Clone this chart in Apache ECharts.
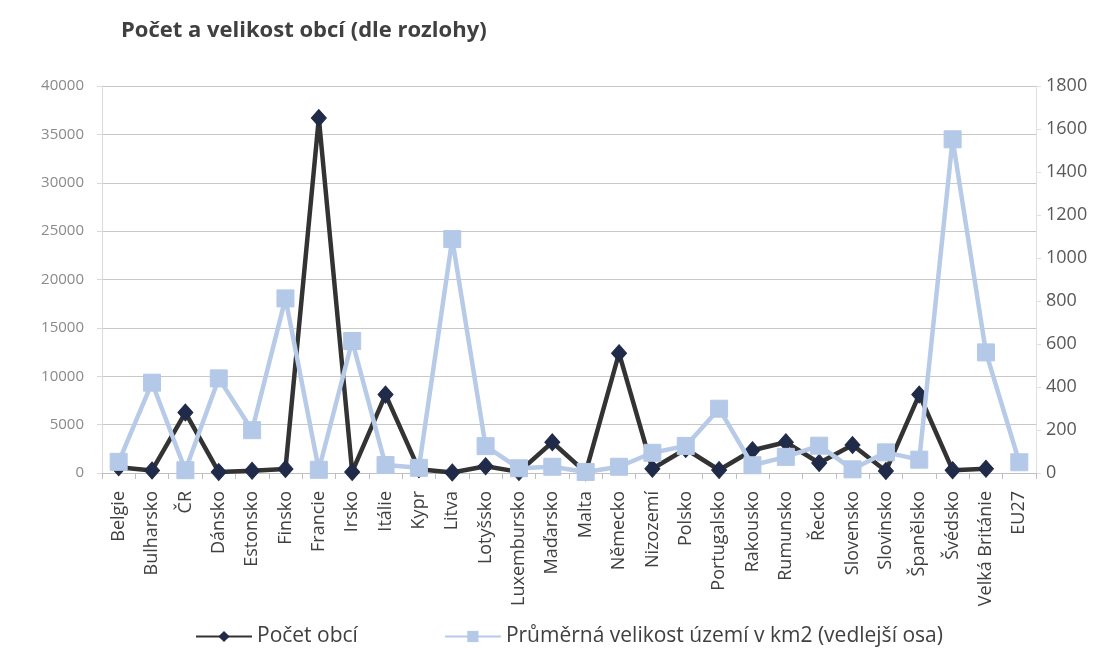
<!DOCTYPE html>
<html>
<head>
<meta charset="utf-8">
<script src="https://cdn.jsdelivr.net/npm/echarts@6/dist/echarts.min.js"></script>
<style>
html,body{margin:0;padding:0;background:#fff;}
#c{width:1119px;height:648px;}
</style>
</head>
<body>
<div id="c"></div>
<script>
const categories = ["Belgie","Bulharsko","ČR","Dánsko","Estonsko","Finsko","Francie","Irsko","Itálie","Kypr","Litva","Lotyšsko","Luxembursko","Maďarsko","Malta","Německo","Nizozemí","Polsko","Portugalsko","Rakousko","Rumunsko","Řecko","Slovensko","Slovinsko","Španělsko","Švédsko","Velká Británie","EU27"];
const pocetObci = [589,264,6249,98,227,416,36683,114,8101,378,60,700,116,3175,68,12379,443,2478,308,2357,3180,1034,2891,210,8111,290,433,null];
const velikost = [52,420,13,440,199,812,15,614,37,24,1088,125,22,29,5,29,94,126,299,36,75,127,17,96,62,1552,561,50];
const leftTicks = {min:0,max:40000,interval:5000};
const rightTicks = {min:0,max:1800,interval:200};

const chart = echarts.init(document.getElementById('c'));
const FONT = '"Open Sans", "Noto Sans", sans-serif';
const plain = v => String(v);
chart.setOption({
  backgroundColor:'#ffffff',
  animation:false,
  title:{
    text:'Počet a velikost obcí (dle rozlohy)',
    left:116, top:15,
    textStyle:{fontFamily:FONT,fontSize:22,fontWeight:'bold',color:'#404040'}
  },
  legend:{
    left:190, top:621,
    itemWidth:56, itemHeight:14, itemGap:86,
    textStyle:{fontFamily:FONT,fontSize:21,color:'#404040'},
    data:['Počet obcí','Průměrná velikost území v km2 (vedlejší osa)']
  },
  grid:{left:102,right:83,top:86,bottom:175},
  xAxis:{
    type:'category',
    data:categories,
    boundaryGap:true,
    axisLine:{lineStyle:{color:'#bfbfbf',width:1}},
    axisTick:{show:true,alignWithLabel:false,length:6,lineStyle:{color:'#bfbfbf'}},
    axisLabel:{rotate:90,interval:0,margin:18,fontFamily:FONT,fontSize:18,color:'#404040'}
  },
  yAxis:[{
    type:'value',
    min:leftTicks.min,max:leftTicks.max,interval:leftTicks.interval,
    axisLine:{show:true,lineStyle:{color:'#d9d9d9'}},
    axisTick:{show:true,length:5,lineStyle:{color:'#d9d9d9'}},
    splitLine:{lineStyle:{color:'#c8c8c8',width:1}},
    axisLabel:{margin:18,fontFamily:FONT,fontSize:15,color:'#8a8a8a',formatter:plain}
  },{
    type:'value',
    min:rightTicks.min,max:rightTicks.max,interval:rightTicks.interval,
    axisLine:{show:true,lineStyle:{color:'#e0e0e0'}},
    axisTick:{show:true,length:5,lineStyle:{color:'#e0e0e0'}},
    splitLine:{show:false},
    axisLabel:{margin:10,fontFamily:FONT,fontSize:18,color:'#595959',formatter:plain}
  }],
  series:[{
    name:'Počet obcí',
    type:'line',
    yAxisIndex:0,
    data:pocetObci,
    symbol:'diamond',
    symbolSize:[15,17],
    showAllSymbol:true,
    z:2,
    lineStyle:{color:'#333333',width:4.5},
    itemStyle:{color:'#1f2b48',borderColor:'#1f2b48'}
  },{
    name:'Průměrná velikost území v km2 (vedlejší osa)',
    type:'line',
    yAxisIndex:1,
    data:velikost,
    symbol:'rect',
    symbolSize:17,
    showAllSymbol:true,
    z:3,
    lineStyle:{color:'#b7cae8',width:4.5},
    itemStyle:{color:'#b4c8e8',borderColor:'#b4c8e8'}
  }]
});
</script>
</body>
</html>
